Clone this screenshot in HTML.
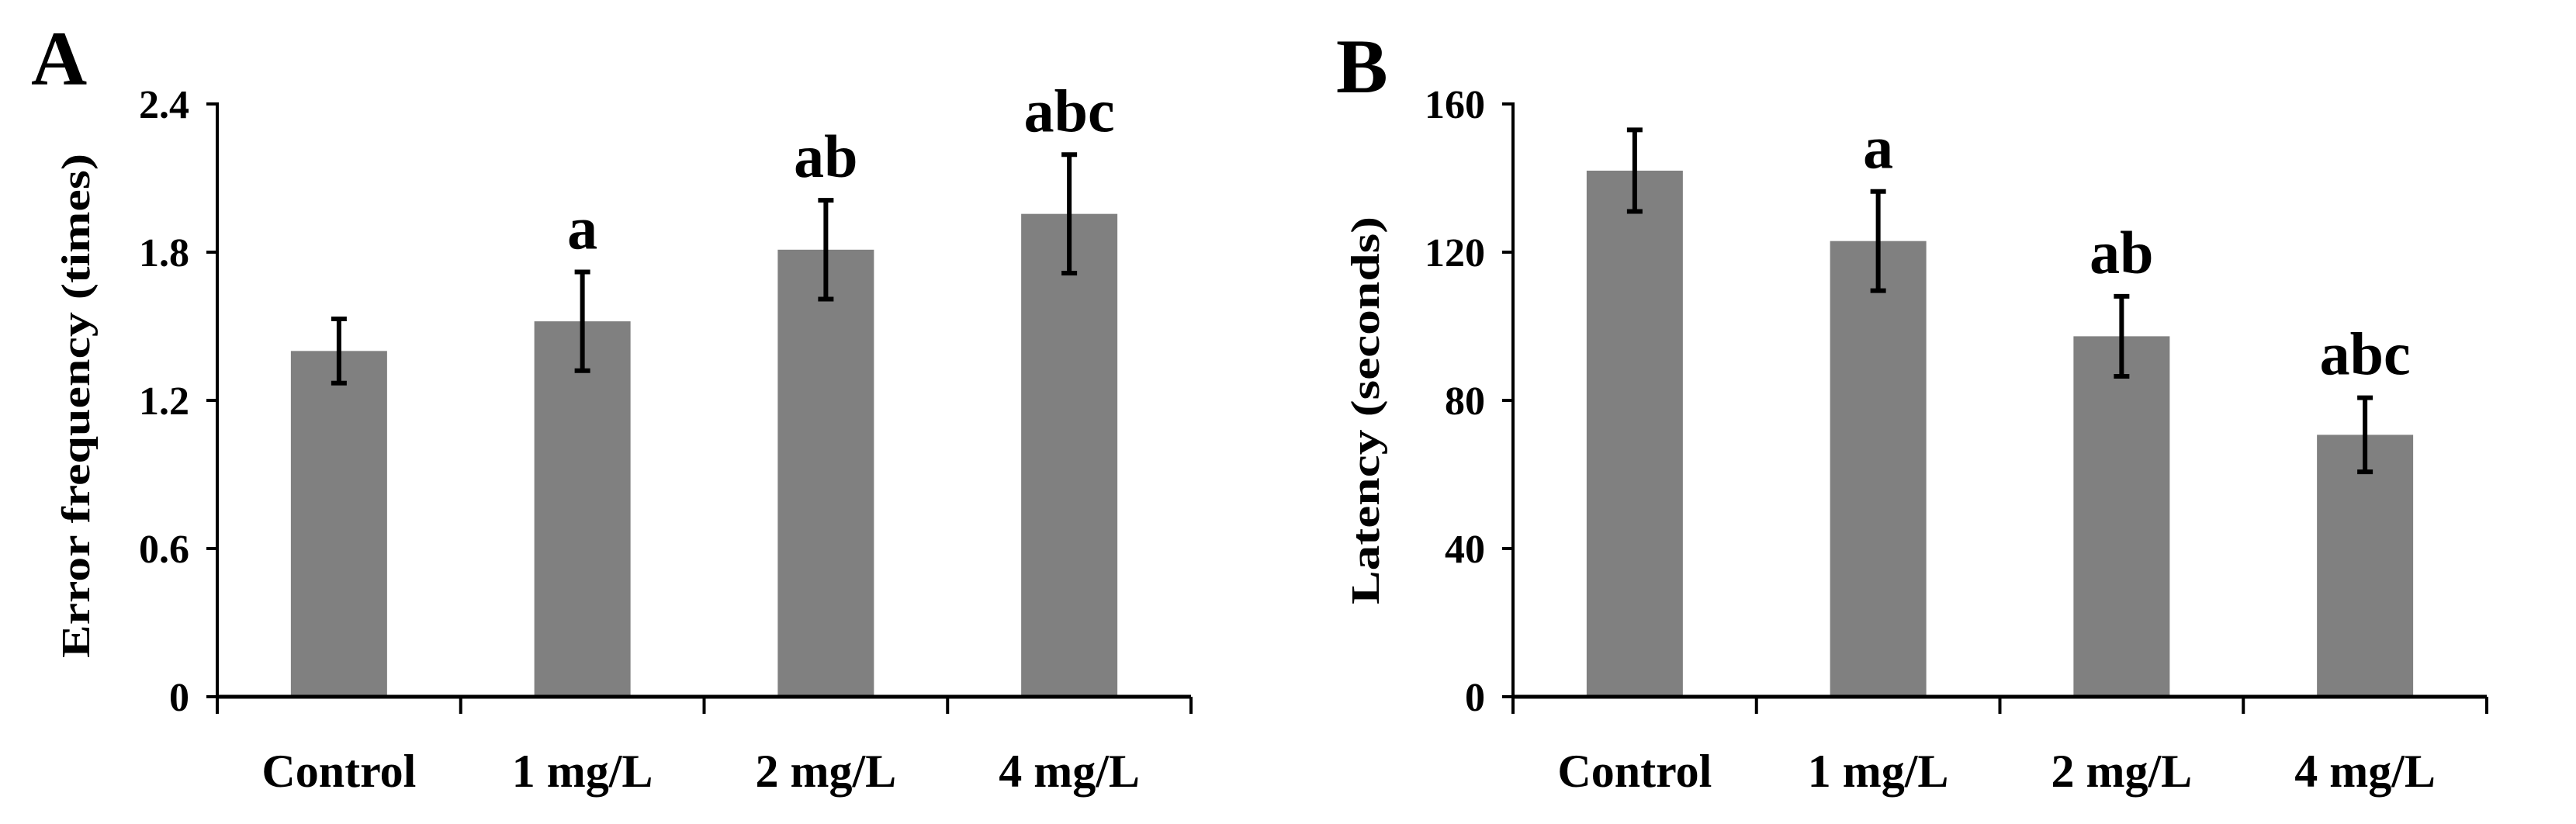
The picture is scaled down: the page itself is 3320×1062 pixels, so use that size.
<!DOCTYPE html>
<html><head><meta charset="utf-8"><style>
html,body{margin:0;padding:0;background:#fff;}
svg{display:block;}
text{font-family:"Liberation Serif",serif;font-weight:bold;fill:#000;}
</style></head><body>
<svg id="chart" width="3320" height="1062" viewBox="0 0 3320 1062" xmlns="http://www.w3.org/2000/svg">
<text x="40" y="109" font-size="100">A</text>
<text x="1722" y="119" font-size="100">B</text>
<text transform="translate(115,523) rotate(-90)" text-anchor="middle" font-size="52" textLength="650" lengthAdjust="spacingAndGlyphs">Error frequency (times)</text>
<text transform="translate(1777,529) rotate(-90)" text-anchor="middle" font-size="52" textLength="500" lengthAdjust="spacingAndGlyphs">Latency (seconds)</text>
</svg>
<script>
const categories = ["Control","1 mg/L","2 mg/L","4 mg/L"];
const errorFreqValues = [1.40, 1.52, 1.81, 1.955];
const errorFreqErr = [0.13, 0.20, 0.20, 0.24];
const errorFreqLetters = ["", "a", "ab", "abc"];
const errorFreqTicks = ["0","0.6","1.2","1.8","2.4"];
const latencyValues = [142, 123, 97.3, 70.7];
const latencyErr = [11, 13.4, 10.8, 10];
const latencyLetters = ["", "a", "ab", "abc"];
const latencyTicks = ["0","40","80","120","160"];

const NS = "http://www.w3.org/2000/svg";
const svg = document.getElementById('chart');
function mk(tag, attrs, parent){
  const e = document.createElementNS(NS, tag);
  for (const k in attrs) e.setAttribute(k, attrs[k]);
  (parent||svg).appendChild(e);
  return e;
}
function panel(key, axisX, rightX, yMax, ticks, values, errs, letters){
  const top = 134, bottom = 898;
  const g = mk('g', {});
  
  
  const y = v => bottom - (v / yMax) * (bottom - top);
  const step = (rightX - axisX) / categories.length;
  const cx = i => axisX + step * (i + 0.5);
  // bars
  values.forEach((v, i) => {
    const r = mk('rect', {x: cx(i) - 62, y: y(v), width: 124, height: bottom - y(v), fill: '#808080'}, g);
    
    
    const hi = y(v + errs[i]), lo = y(v - errs[i]);
    const eb = mk('path', {d: `M${cx(i)},${hi}V${lo}M${cx(i)-10},${hi}H${cx(i)+10}M${cx(i)-10},${lo}H${cx(i)+10}`, stroke: '#000', 'stroke-width': 6, fill: 'none'}, g);
    
    
    if (letters[i]) {
      const t = mk('text', {x: cx(i), y: hi - 30, 'text-anchor': 'middle', 'font-size': 78}, g);
      t.textContent = letters[i];
      
      
    }
    const xl = mk('text', {x: cx(i), y: 1014, 'text-anchor': 'middle', 'font-size': 60}, g);
    xl.textContent = categories[i];
    
    
  });
  // axes
  const ya = mk('line', {x1: axisX, y1: top - 2, x2: axisX, y2: bottom + 3, stroke: '#000', 'stroke-width': 4}, g);
  
  
  const xa = mk('line', {x1: axisX, y1: bottom, x2: rightX, y2: bottom, stroke: '#000', 'stroke-width': 5}, g);
  
  
  for (let i = 0; i <= categories.length; i++) {
    const xx = axisX + step * i;
    const tk = mk('line', {x1: xx, y1: bottom, x2: xx, y2: bottom + 22, stroke: '#000', 'stroke-width': 4}, g);
    
    
  }
  ticks.forEach((lab, i) => {
    const v = yMax * i / (ticks.length - 1);
    const tk = mk('line', {x1: axisX - 14, y1: y(v), x2: axisX, y2: y(v), stroke: '#000', 'stroke-width': 4}, g);
    
    
    const t = mk('text', {x: axisX - 36, y: y(v) + 18, 'text-anchor': 'end', 'font-size': 52}, g);
    t.textContent = lab;
    
    
  });
}
panel('a', 280, 1535, 2.4, errorFreqTicks, errorFreqValues, errorFreqErr, errorFreqLetters);
panel('b', 1950, 3205, 160, latencyTicks, latencyValues, latencyErr, latencyLetters);
</script>
</body></html>
